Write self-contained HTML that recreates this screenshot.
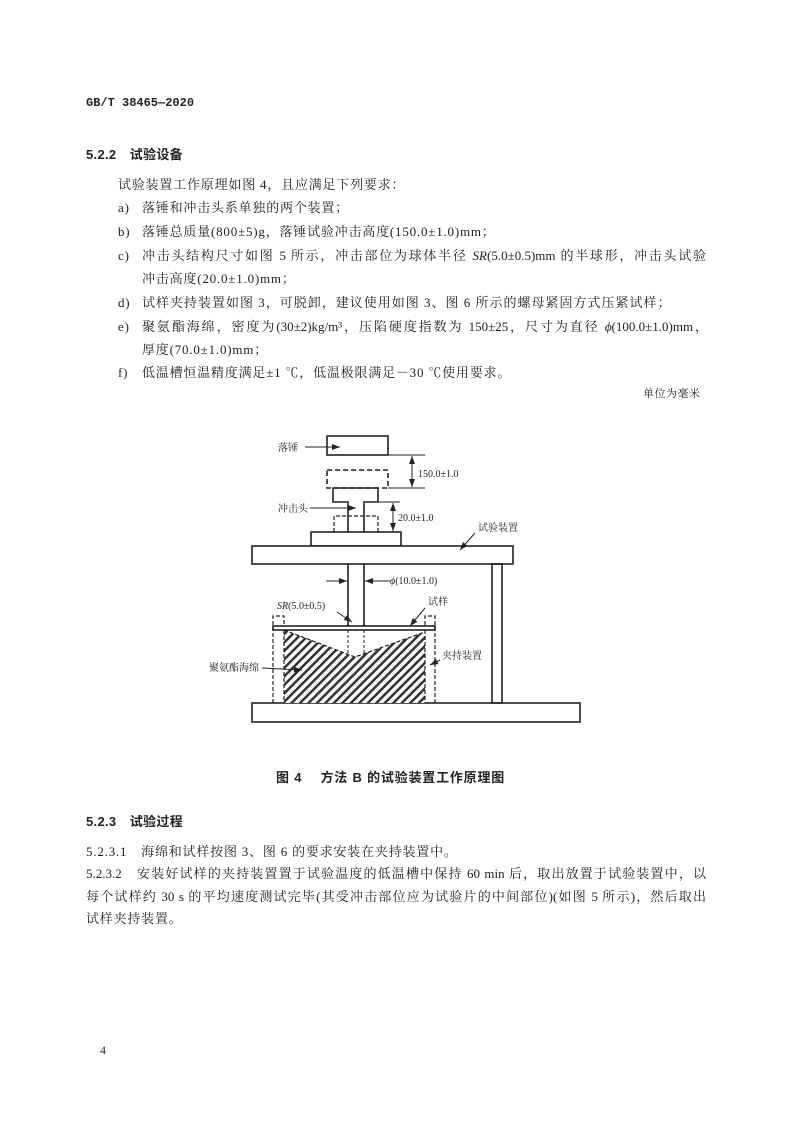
<!DOCTYPE html>
<html><head><meta charset="utf-8"><style>
body{margin:0;background:#fff;}
#p{position:relative;width:800px;height:1131px;overflow:hidden;font-family:"Liberation Serif","Noto Serif CJK SC",serif;font-size:13px;color:#222;}
.t{position:absolute;white-space:nowrap;line-height:16px;letter-spacing:0.8px;}
.j{text-align:justify;text-align-last:justify;white-space:normal;letter-spacing:0;}
.b{font-family:"Liberation Sans","Noto Sans CJK SC",sans-serif;font-weight:bold;letter-spacing:0.3px;}
svg text{font-family:"Liberation Serif","Noto Serif CJK SC",serif;font-size:10px;fill:#222;}
</style></head><body><div id="p">
<div class="t" style="left:86px;top:95px;font-weight:bold;font-family:'Liberation Mono',monospace;font-size:12px;letter-spacing:0">GB/T 38465—2020</div>
<div class="t b" style="left:86px;top:147px">5.2.2　试验设备</div>
<div class="t" style="left:118px;top:177px">试验装置工作原理如图 4，且应满足下列要求：</div>
<div class="t" style="left:118px;top:200px">a)</div><div class="t" style="left:142px;top:200px">落锤和冲击头系单独的两个装置；</div>
<div class="t" style="left:118px;top:224px">b)</div><div class="t" style="left:142px;top:224px">落锤总质量(800±5)g，落锤试验冲击高度(150.0±1.0)mm；</div>
<div class="t" style="left:118px;top:248px">c)</div><div class="t j" style="left:142px;top:248px;width:564px">冲击头结构尺寸如图 5 所示，冲击部位为球体半径 <i>SR</i>(5.0±0.5)mm 的半球形，冲击头试验</div>
<div class="t" style="left:142px;top:271px">冲击高度(20.0±1.0)mm；</div>
<div class="t" style="left:118px;top:295px">d)</div><div class="t" style="left:142px;top:295px;letter-spacing:1px">试样夹持装置如图 3，可脱卸，建议使用如图 3、图 6 所示的螺母紧固方式压紧试样；</div>
<div class="t" style="left:118px;top:319px">e)</div><div class="t j" style="left:142px;top:319px;width:566px">聚氨酯海绵，密度为(30±2)kg/m³，压陷硬度指数为 150±25，尺寸为直径 <i>ϕ</i>(100.0±1.0)mm，</div>
<div class="t" style="left:142px;top:342px">厚度(70.0±1.0)mm；</div>
<div class="t" style="left:118px;top:365px">f)</div><div class="t" style="left:142px;top:365px">低温槽恒温精度满足±1 ℃，低温极限满足－30 ℃使用要求。</div>
<div class="t" style="left:643px;top:386px;font-size:11px;letter-spacing:0.5px">单位为毫米</div>

<svg style="position:absolute;left:0;top:0" width="800" height="1131">
<defs>
<pattern id="h" width="6" height="6" patternUnits="userSpaceOnUse" patternTransform="rotate(45)"><rect width="6" height="6" fill="#fff"/><rect width="2.5" height="6" fill="#333"/></pattern>
<marker id="a" markerWidth="8" markerHeight="6" refX="8" refY="3" orient="auto" markerUnits="userSpaceOnUse"><path d="M0,0L8,3L0,6z" fill="#222"/></marker>
</defs>
<g stroke="#222" stroke-width="1.6" fill="none">
<rect x="327" y="436" width="61" height="19"/>
<rect x="327" y="470" width="61" height="18" stroke-dasharray="5,3"/>
<path d="M348,625 L348,502 L333,502 L333,488 L378,488 L378,502 L364,502 L364,625"/>
<path d="M348,624 A8,6 0 0 0 364,624"/>
<path d="M334,532 L334,516 L378,516 L378,532" stroke-dasharray="4,2" stroke-width="1.2"/>
<rect x="311" y="532" width="90" height="14" fill="#fff"/>
<rect x="252" y="546" width="261" height="18" fill="#fff"/>
<rect x="492" y="564" width="10" height="139"/>
<rect x="252" y="703" width="328" height="19"/>
<path d="M284,630 L355,657 L425,632 L425,703 L284,703 Z" fill="url(#h)" stroke="none"/>
<path d="M284,630 L355,657 L425,632" stroke-dasharray="4,2" stroke-width="1.2"/>
<rect x="273" y="626" width="162" height="4" fill="#fff"/>
<path d="M273,703 L273,616 L284,616 L284,626 M435,703 L435,616 L425,616 L425,626 M284,630 L284,703 M425,630 L425,703" stroke-dasharray="4,2" stroke-width="1.2"/>
<path d="M348,630 L348,655 M364,630 L364,655" stroke-dasharray="3,2" stroke-width="1"/>
</g>
<g stroke="#222" stroke-width="1" fill="none">
<line x1="388" y1="455" x2="425" y2="455"/><line x1="388" y1="488" x2="425" y2="488"/>
<line x1="412" y1="470" x2="412" y2="456" marker-end="url(#a)"/><line x1="412" y1="470" x2="412" y2="487" marker-end="url(#a)"/>
<line x1="378" y1="502" x2="400" y2="502"/>
<line x1="393" y1="516" x2="393" y2="503" marker-end="url(#a)"/><line x1="393" y1="516" x2="393" y2="531" marker-end="url(#a)"/>
<line x1="326" y1="581" x2="347" y2="581" marker-end="url(#a)"/><line x1="390" y1="581" x2="365" y2="581" marker-end="url(#a)"/>
<line x1="305" y1="447" x2="340" y2="447" marker-end="url(#a)"/>
<line x1="310" y1="508" x2="356" y2="508" marker-end="url(#a)"/>
<line x1="475" y1="533" x2="460" y2="550" marker-end="url(#a)"/>
<line x1="337" y1="612" x2="352" y2="622" marker-end="url(#a)"/>
<line x1="425" y1="608" x2="410" y2="626" marker-end="url(#a)"/>
<line x1="262" y1="668" x2="302" y2="670" marker-end="url(#a)"/>
<line x1="440" y1="660" x2="430" y2="665" marker-end="url(#a)"/>
</g>
<text x="278" y="451">落锤</text>
<text x="418" y="477">150.0±1.0</text>
<text x="278" y="512">冲击头</text>
<text x="398" y="521">20.0±1.0</text>
<text x="478" y="531">试验装置</text>
<text x="390" y="584"><tspan font-style="italic">ϕ</tspan>(10.0±1.0)</text>
<text x="277" y="609"><tspan font-style="italic">SR</tspan>(5.0±0.5)</text>
<text x="428" y="605">试样</text>
<text x="442" y="659">夹持装置</text>
<text x="209" y="671">聚氨酯海绵</text>
</svg>

<div class="t b" style="left:276px;top:770px;letter-spacing:0.8px">图 4　 方法 B 的试验装置工作原理图</div>
<div class="t b" style="left:86px;top:814px">5.2.3　试验过程</div>
<div class="t" style="left:86px;top:844px">5.2.3.1　海绵和试样按图 3、图 6 的要求安装在夹持装置中。</div>
<div class="t j" style="left:86px;top:866px;width:620px">5.2.3.2　安装好试样的夹持装置置于试验温度的低温槽中保持 60 min 后，取出放置于试验装置中，以</div>
<div class="t j" style="left:86px;top:889px;width:620px">每个试样约 30 s 的平均速度测试完毕(其受冲击部位应为试验片的中间部位)(如图 5 所示)，然后取出</div>
<div class="t" style="left:86px;top:911px">试样夹持装置。</div>
<div class="t" style="left:100px;top:1042px;font-size:12px">4</div>
</div></body></html>
